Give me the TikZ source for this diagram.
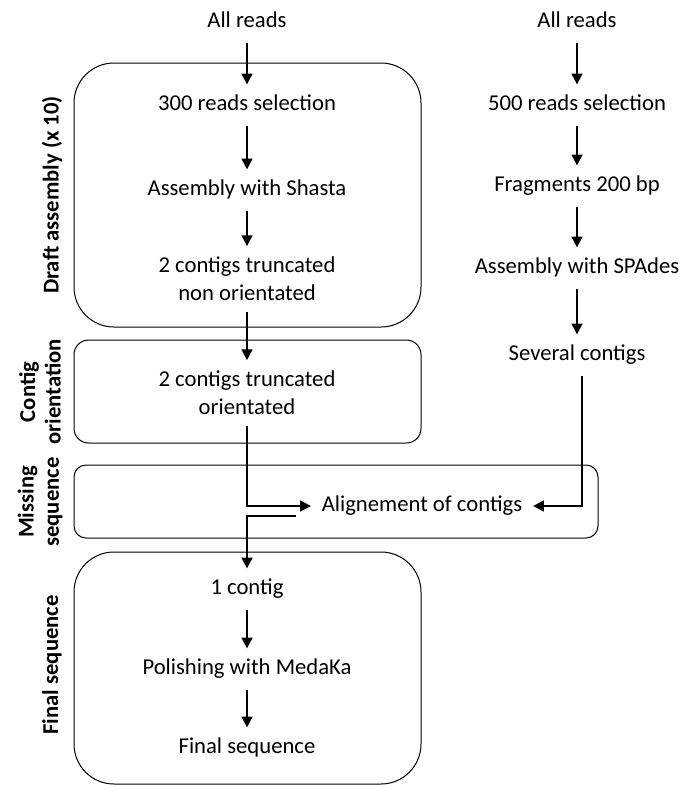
\documentclass[tikz,border=0pt]{standalone}
\usepackage{fontspec}
\setmainfont{Carlito}
\usetikzlibrary{arrows.meta}

\tikzset{
  flowtext/.style={inner sep=8pt, font=\fontsize{17}{21}\selectfont, align=center},
  oneline/.style={flowtext, text height=11pt, text depth=3.5pt},
  phase/.style={font=\bfseries\fontsize{17}{19}\selectfont, align=center, rotate=90, inner sep=0.75pt},
  flowarrow/.style={line width=1.5pt, -{Triangle[length=8pt,width=8pt]}},
  frame/.style={line width=0.75pt}
}

\begin{document}
\begin{tikzpicture}[x=0.75pt,y=0.75pt,yscale=-1,xscale=1]
\useasboundingbox (0,0) rectangle (699,785);
%Rounded Rect [id:draft] 
\draw [frame, rounded corners=30pt] (74,63) rectangle (421,327) ;
%Rounded Rect [id:orient] 
\draw [frame, rounded corners=11pt] (74,340) rectangle (421,443) ;
%Rounded Rect [id:missing] 
\draw [frame, rounded corners=9pt] (74,465) rectangle (598,538) ;
%Rounded Rect [id:final] 
\draw [frame, rounded corners=30pt] (74,552) rectangle (421,784) ;

% Text Node
\node [phase] (lbldraft) at (52,195) {Draft assembly (x 10)};
% Text Node
\node [phase] (lblorient) at (40,392) {Contig\\orientation};
% Text Node
\node [phase] (lblmissing) at (40,502) {Missing\\sequence};
% Text Node
\node [phase] (lblfinal) at (52,665) {Final sequence};

% Text Node
\node [oneline] (readsL) at (247,22) {All reads};
% Text Node
\node [oneline] (sel300) at (247,105) {300 reads selection};
% Text Node
\node [oneline] (shasta) at (247,190) {Assembly with Shasta};
% Text Node
\node [flowtext] (truncnon) at (247,279) {2 contigs truncated\\non orientated};
% Text Node
\node [flowtext] (truncor) at (247,393) {2 contigs truncated\\orientated};
% Text Node
\node [oneline] (align) at (422,506) {Alignement of contigs};
% Text Node
\node [oneline] (onecontig) at (247,589) {1 contig};
% Text Node
\node [oneline] (medaka) at (247,669) {Polishing with MedaKa};
% Text Node
\node [oneline] (finalseq) at (247,748) {Final sequence};

% Text Node
\node [oneline] (readsR) at (577,22) {All reads};
% Text Node
\node [oneline] (sel500) at (577,105) {500 reads selection};
% Text Node
\node [oneline] (frag) at (577,186) {Fragments 200 bp};
% Text Node
\node [oneline] (spades) at (577,268) {Assembly with SPAdes};
% Text Node
\node [oneline] (several) at (577,355) {Several contigs};

%Straight Lines [id:left] 
\draw [flowarrow] (readsL) -- (sel300) ;
\draw [flowarrow] (sel300) -- (shasta) ;
\draw [flowarrow] (shasta) -- (truncnon) ;
\draw [flowarrow] (truncnon) -- (truncor) ;
\draw [flowarrow] (truncor.south) |- (align.west) ;
%Straight Lines [id:merge] 
\coordinate (merge) at (296,516) ;
\draw [flowarrow] (merge) -| (onecontig.north) ;
\draw [flowarrow] (onecontig) -- (medaka) ;
\draw [flowarrow] (medaka) -- (finalseq) ;

%Straight Lines [id:right] 
\draw [flowarrow] (readsR) -- (sel500) ;
\draw [flowarrow] (sel500) -- (frag) ;
\draw [flowarrow] (frag) -- (spades) ;
\draw [flowarrow] (spades) -- (several) ;
\draw [flowarrow] ([xshift=3.75pt]several.south) |- (align.east) ;
\end{tikzpicture}
\end{document}
